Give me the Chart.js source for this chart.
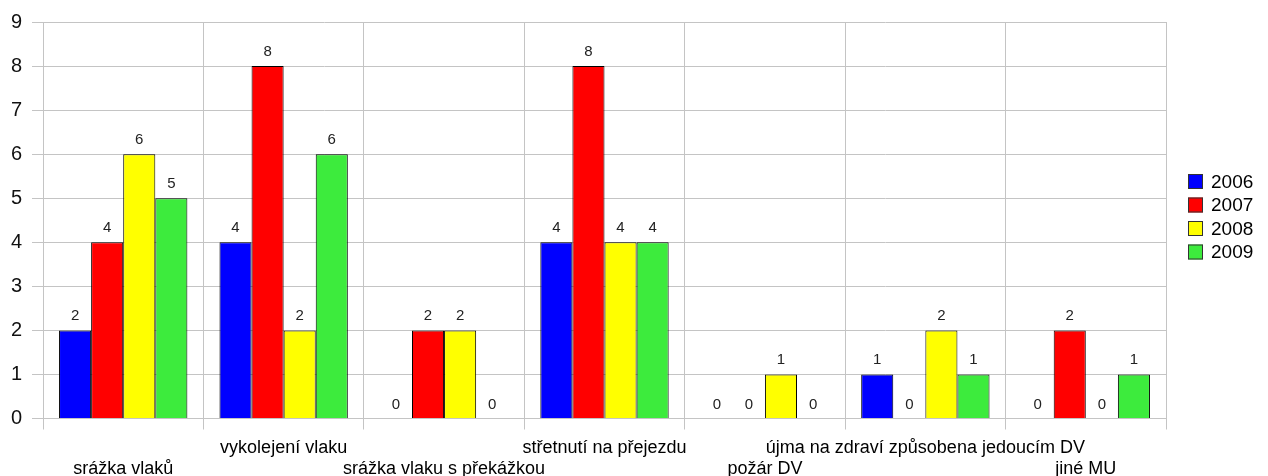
<!DOCTYPE html>
<html>
<head>
<meta charset="utf-8">
<script src="https://cdn.jsdelivr.net/npm/chart.js@4"></script>
<style>
  html, body { margin: 0; padding: 0; background: #fff; }
  #wrap { width: 1268px; height: 476px; }
</style>
</head>
<body>
<div id="wrap"><canvas id="mu-chart"></canvas></div>
<script>
// data
const categories = ["srážka vlaků", "vykolejení vlaku", "srážka vlaku s překážkou",
    "střetnutí na přejezdu", "požár DV", "újma na zdraví způsobena jedoucím DV", "jiné MU"];
const years = ["2006", "2007", "2008", "2009"];
const values2006 = [2, 4, 0, 4, 0, 1, 0];
const values2007 = [4, 8, 2, 8, 0, 0, 2];
const values2008 = [6, 2, 2, 4, 1, 2, 0];
const values2009 = [5, 6, 0, 4, 0, 1, 1];
const yTicks = [0, 1, 2, 3, 4, 5, 6, 7, 8, 9];

const colors = ['#0000ff', '#ff0000', '#ffff00', '#3deb3d'];
const gridColor = '#c4c4c4';
const font = '"Liberation Sans", Arial, sans-serif';

const seriesValues = [values2006, values2007, values2008, values2009];

const muData = {
    labels: categories,
    datasets: years.map((y, i) => ({
        label: y,
        data: seriesValues[i],
        backgroundColor: colors[i],
        borderColor: '#000',
        borderWidth: 1,
        categoryPercentage: 0.8,
        barPercentage: 1.0
    }))
};

// numbers above bars
const valueLabels = {
    id: 'valueLabels',
    afterDatasetsDraw(chart) {
        const ctx = chart.ctx;
        ctx.save();
        ctx.font = '15px ' + font;
        ctx.fillStyle = '#222';
        ctx.textAlign = 'center';
        ctx.textBaseline = 'alphabetic';
        chart.data.datasets.forEach((ds, i) => {
            chart.getDatasetMeta(i).data.forEach((bar, j) => {
                ctx.fillText(String(ds.data[j]), bar.x, bar.y - 10);
            });
        });
        ctx.restore();
    }
};

// legend on the right
const sideLegend = {
    id: 'sideLegend',
    afterDraw(chart) {
        const ctx = chart.ctx;
        const area = chart.chartArea;
        const step = 23.5;
        const n = chart.data.datasets.length;
        let y = (area.top + area.bottom) / 2 - 4 - step * (n - 1) / 2;
        const x = area.right + 22;
        ctx.save();
        ctx.font = '19px ' + font;
        ctx.textBaseline = 'middle';
        ctx.textAlign = 'left';
        chart.data.datasets.forEach(ds => {
            ctx.fillStyle = ds.backgroundColor;
            ctx.fillRect(x, y - 7, 15, 15);
            ctx.strokeStyle = '#333';
            ctx.lineWidth = 1;
            ctx.strokeRect(x + 0.5, y - 6.5, 14, 14);
            ctx.fillStyle = '#000';
            ctx.fillText(ds.label, x + 23, y + 1.5);
            y += step;
        });
        ctx.restore();
    }
};

const muOptions = {
    responsive: true,
    maintainAspectRatio: false,
    animation: false,
    layout: {
        padding: { top: 19, right: 102, left: 0, bottom: 0 }
    },
    scales: {
        x: {
            grid: {
                color: gridColor,
                offset: true,
                tickLength: 11
            },
            border: { color: gridColor },
            ticks: {
                autoSkip: false,
                maxRotation: 0,
                minRotation: 0,
                padding: 8,
                color: '#000',
                font: { family: font, size: 18, lineHeight: 1.17 },
                callback: function (value, index) {
                    const label = categories[index];
                    return index % 2 ? [label, ''] : ['', label];
                }
            },
            afterFit: (scale) => { scale.height = 57.5; }
        },
        y: {
            min: 0,
            max: 9,
            afterBuildTicks: (scale) => {
                scale.ticks = yTicks.map(v => ({ value: v }));
            },
            grid: {
                color: gridColor,
                tickLength: 11
            },
            border: { color: gridColor },
            ticks: {
                padding: 10,
                color: '#111',
                font: { family: font, size: 20 }
            },
            afterFit: (scale) => { scale.width = 43; }
        }
    },
    plugins: {
        legend: { display: false },
        tooltip: { enabled: false }
    }
};

let muChart = new Chart(document.getElementById('mu-chart'), {
    type: 'bar',
    data: muData,
    options: muOptions,
    plugins: [valueLabels, sideLegend]
});
</script>
</body>
</html>
